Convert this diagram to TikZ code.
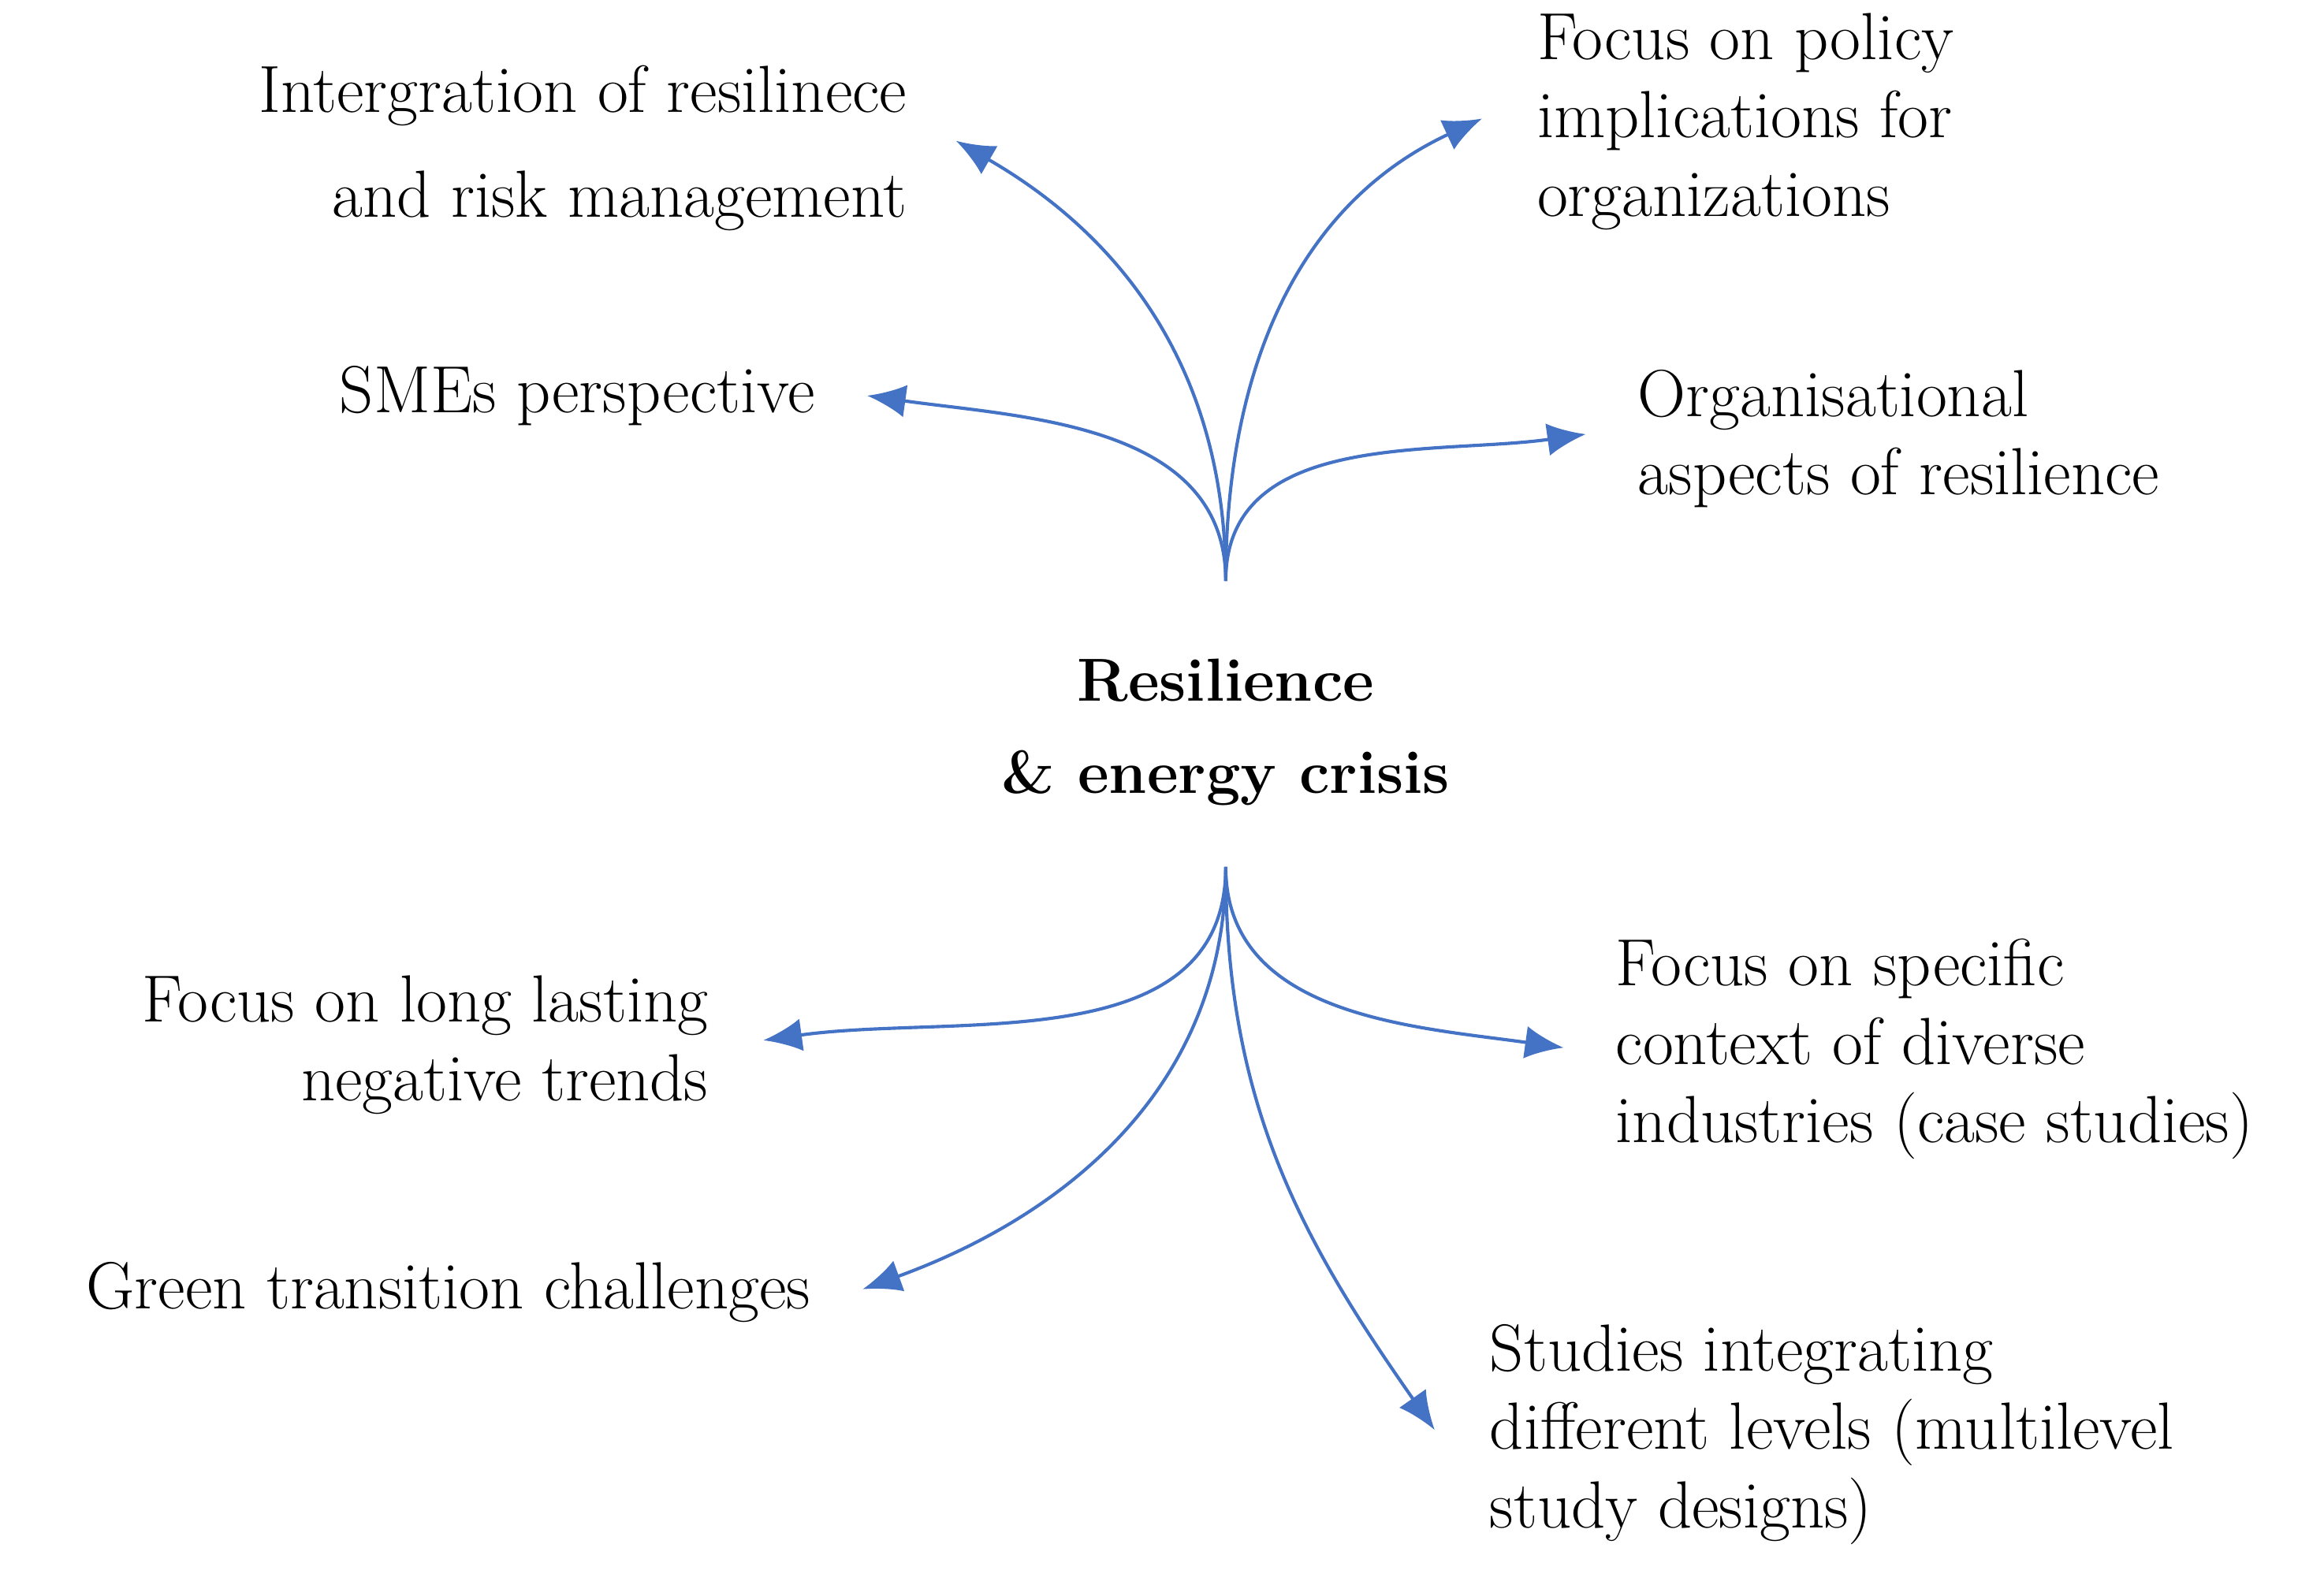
\documentclass[tikz,border=0pt]{standalone}
\usetikzlibrary{arrows.meta}
\definecolor{ac}{HTML}{4472C4}
\begin{document}
\begin{tikzpicture}[x=1pt,y=-1pt,
  lab/.style={font=\fontsize{45}{53}\selectfont,inner sep=0pt},
  arr/.style={draw=ac,line width=2.2pt,-{Latex[length=26pt,width=22pt]},color=ac}]
\useasboundingbox (0,0) rectangle (1568,1062);
\coordinate (t) at (827,392);
\coordinate (b) at (827,585);
\node[lab,font=\fontsize{41}{62}\selectfont\bfseries,align=center] (c) at (827,494) {Resilience\\\& energy crisis};
\node[lab,align=right,anchor=east] (n1) at (612,100) {Intergration of resilinece\\[18pt]and risk management};
\node[lab,anchor=east] (n2) at (550,267) {SMEs perspective};
\node[lab,align=left,anchor=west] (n3) at (1037,82) {Focus on policy\\implications for\\organizations};
\node[lab,align=left,anchor=west] (n4) at (1105,296) {Organisational\\aspects of resilience};
\node[lab,align=right,anchor=east] (n5) at (478,705) {Focus on long lasting\\negative trends};
\node[lab,anchor=east] (n6) at (547,872) {Green transition challenges};
\node[lab,align=left,anchor=west] (n7) at (1090,708) {Focus on specific\\context of diverse\\industries (case studies)};
\node[lab,align=left,anchor=west] (n8) at (1005,968) {Studies integrating\\different levels (multilevel\\study designs)};
\draw[arr] (t) to[out=90,in=-30] ([xshift=33pt]n1.east|-0,95);
\draw[arr] (t) to[out=90,in=-8] ([xshift=35pt]n2.east);
\draw[arr] (t) to[out=90,in=205] ([xshift=-37pt]n3.west|-0,80);
\draw[arr] (t) to[out=90,in=188] ([xshift=-35pt]n4.west|-0,293);
\draw[arr] (b) to[out=-90,in=8] ([xshift=37pt]n5.east|-0,702);
\draw[arr] (b) to[out=-90,in=20] ([xshift=35pt]n6.east|-0,870);
\draw[arr] (b) to[out=-90,in=172] ([xshift=-35pt]n7.west|-0,707);
\draw[arr] (b) to[out=-90,in=125] ([xshift=-37pt]n8.west|-0,965);
\end{tikzpicture}
\end{document}
